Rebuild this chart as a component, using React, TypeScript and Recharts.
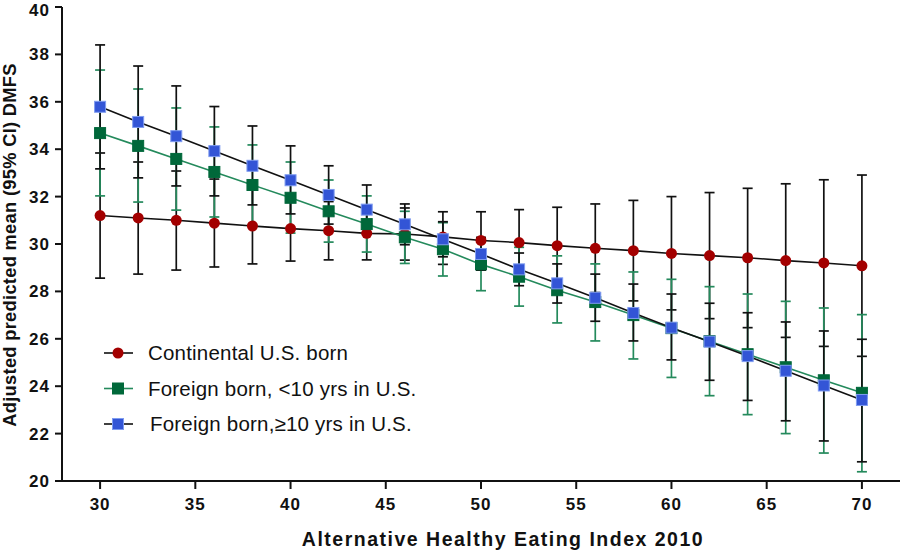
import React from 'react';
import { LineChart, Line, XAxis, YAxis, ErrorBar, Legend } from 'recharts';

const xValues = [30, 32, 34, 36, 38, 40, 42, 44, 46, 48, 50, 52, 54, 56, 58, 60, 62, 64, 66, 68, 70];

const usMean = [31.2, 31.1, 31.0, 30.88, 30.76, 30.65, 30.56, 30.45, 30.42, 30.3, 30.15, 30.06, 29.93, 29.82, 29.72, 29.6, 29.51, 29.42, 29.3, 29.2, 29.08];
const usLow = [28.56, 28.73, 28.9, 29.03, 29.16, 29.28, 29.33, 29.33, 29.32, 29.14, 28.9, 28.67, 28.3, 27.95, 27.6, 27.22, 26.85, 26.47, 26.06, 25.68, 25.26];
const usHigh = [33.84, 33.46, 33.08, 32.74, 32.36, 32.02, 31.79, 31.57, 31.52, 31.36, 31.36, 31.45, 31.55, 31.69, 31.84, 32.0, 32.17, 32.35, 32.54, 32.71, 32.91];

const fbLtMean = [34.68, 34.14, 33.59, 33.04, 32.49, 31.95, 31.38, 30.84, 30.28, 29.78, 29.14, 28.62, 28.05, 27.55, 27.0, 26.45, 25.9, 25.35, 24.8, 24.25, 23.72];
const fbLtLow = [32.03, 31.77, 31.43, 31.14, 30.8, 30.46, 30.08, 29.66, 29.18, 28.65, 28.03, 27.38, 26.67, 25.91, 25.15, 24.37, 23.6, 22.8, 22.0, 21.18, 20.39];
const fbLtHigh = [37.34, 36.54, 35.74, 34.94, 34.18, 33.46, 32.7, 32.03, 31.38, 30.9, 30.25, 29.86, 29.5, 29.16, 28.82, 28.51, 28.2, 27.89, 27.58, 27.3, 27.02];

const fbGeMean = [35.79, 35.15, 34.55, 33.92, 33.3, 32.69, 32.07, 31.45, 30.83, 30.2, 29.58, 28.93, 28.34, 27.73, 27.09, 26.47, 25.88, 25.27, 24.65, 24.03, 23.42];
const fbGeLow = [33.17, 32.79, 32.45, 32.03, 31.65, 31.27, 30.84, 30.41, 29.97, 29.46, 28.9, 28.24, 27.51, 26.74, 25.91, 25.11, 24.25, 23.4, 22.54, 21.69, 20.81];
const fbGeHigh = [38.4, 37.51, 36.67, 35.8, 34.98, 34.14, 33.3, 32.49, 31.69, 30.94, 30.28, 29.62, 29.16, 28.73, 28.31, 27.89, 27.5, 27.1, 26.71, 26.33, 25.98];

const xTicks = [30, 35, 40, 45, 50, 55, 60, 65, 70];
const yTicks = [20, 22, 24, 26, 28, 30, 32, 34, 36, 38, 40];

const seriesNames = ['Continental U.S. born', 'Foreign born, <10 yrs in U.S.', 'Foreign born,\u226510 yrs in U.S.'];

const data = xValues.map((x, i) => ({
  x,
  us: usMean[i],
  usErr: [usMean[i] - usLow[i], usHigh[i] - usMean[i]],
  lt: fbLtMean[i],
  ltErr: [fbLtMean[i] - fbLtLow[i], fbLtHigh[i] - fbLtMean[i]],
  ge: fbGeMean[i],
  geErr: [fbGeMean[i] - fbGeLow[i], fbGeHigh[i] - fbGeMean[i]],
}));

const FONT = '"Liberation Sans", Arial, Helvetica, sans-serif';
const RED = '#a30000';
const GREEN_FILL = '#00683a';
const GREEN_LINE = '#248a5c';
const BLUE_FILL = '#3355d6';
const BLUE_EDGE = '#7f9cf0';
const INK = '#111';

const squareDot = (fill: string, stroke: string) => (props: any) => {
  const { cx, cy, index } = props;
  if (cx == null || cy == null) return <g key={index} />;
  return <rect key={index} x={cx - 5.5} y={cy - 5.5} width={11} height={11} fill={fill} stroke={stroke} strokeWidth={1} />;
};

const renderLegend = () => {
  const rows = [
    { name: seriesNames[0], line: INK, kind: 'circle', fill: RED, stroke: RED },
    { name: seriesNames[1], line: GREEN_LINE, kind: 'square', fill: GREEN_FILL, stroke: GREEN_FILL },
    { name: seriesNames[2], line: INK, kind: 'square', fill: BLUE_FILL, stroke: BLUE_EDGE },
  ];
  return (
    <svg width={360} height={110} style={{ display: 'block' }}>
      {rows.map((r, i) => {
        const cy = 15 + i * 35.5;
        return (
          <g key={r.name}>
            <line x1={4} x2={33} y1={cy} y2={cy} stroke={r.line} strokeWidth={1.6} />
            {r.kind === 'circle' ? (
              <circle cx={18} cy={cy} r={5.5} fill={r.fill} />
            ) : (
              <rect x={12.5} y={cy - 5.5} width={11} height={11} fill={r.fill} stroke={r.stroke} strokeWidth={1} />
            )}
            <text x={i === 2 ? 50 : 48} y={cy + 7} fontFamily={FONT} fontSize={20.5} letterSpacing={0.2} fill={INK}>
              {r.name}
            </text>
          </g>
        );
      })}
    </svg>
  );
};

export default function App() {
  return (
    <div style={{ position: 'absolute', left: 0, top: 0, width: 900, height: 552, background: '#fff' }}>
      <LineChart width={900} height={552} data={data} margin={{ top: 7, right: 0, bottom: 0, left: 0 }}>
        <XAxis
          type="number"
          dataKey="x"
          domain={[28, 72]}
          ticks={xTicks}
          height={71}
          stroke={INK}
          strokeWidth={2}
          tickSize={8}
          tickMargin={9}
          tick={{ fontFamily: FONT, fontSize: 17, fontWeight: 700, fill: INK, letterSpacing: 1 }}
          label={{
            value: 'Alternative Healthy Eating Index 2010',
            position: 'center',
            dx: 22,
            dy: 23,
            style: { fontFamily: FONT, fontSize: 19.5, fontWeight: 700, fill: INK, letterSpacing: 1.5 },
          }}
        />
        <YAxis
          type="number"
          domain={[20, 40]}
          ticks={yTicks}
          width={62}
          stroke={INK}
          strokeWidth={2}
          tickSize={7}
          tickMargin={5}
          tick={{ fontFamily: FONT, fontSize: 17, fontWeight: 700, fill: INK, letterSpacing: 1 }}
          label={{
            value: 'Adjusted predicted mean (95% CI) DMFS',
            angle: -90,
            position: 'center',
            dx: -21,
            dy: 1,
            style: { fontFamily: FONT, fontSize: 18.3, fontWeight: 700, fill: INK, letterSpacing: 0.3 },
          }}
        />
        <Legend
          layout="vertical"
          align="center"
          verticalAlign="middle"
          content={renderLegend}
          wrapperStyle={{ left: 100, top: 338, width: 360, height: 110 }}
        />
        <Line
          dataKey="us"
          name={seriesNames[0]}
          stroke={INK}
          strokeWidth={1.6}
          isAnimationActive={false}
          dot={{ r: 5.5, fill: RED, stroke: RED, strokeWidth: 0 }}
          activeDot={false}
        >
          <ErrorBar dataKey="usErr" direction="y" width={5} stroke={INK} strokeWidth={1.7} isAnimationActive={false} />
        </Line>
        <Line
          dataKey="lt"
          name={seriesNames[1]}
          stroke={GREEN_LINE}
          strokeWidth={1.6}
          isAnimationActive={false}
          dot={squareDot(GREEN_FILL, GREEN_FILL)}
          activeDot={false}
        >
          <ErrorBar dataKey="ltErr" direction="y" width={5} stroke={GREEN_LINE} strokeWidth={1.7} isAnimationActive={false} />
        </Line>
        <Line
          dataKey="ge"
          name={seriesNames[2]}
          stroke={INK}
          strokeWidth={1.6}
          isAnimationActive={false}
          dot={squareDot(BLUE_FILL, BLUE_EDGE)}
          activeDot={false}
        >
          <ErrorBar dataKey="geErr" direction="y" width={5} stroke={INK} strokeWidth={1.7} isAnimationActive={false} />
        </Line>
      </LineChart>
    </div>
  );
}
